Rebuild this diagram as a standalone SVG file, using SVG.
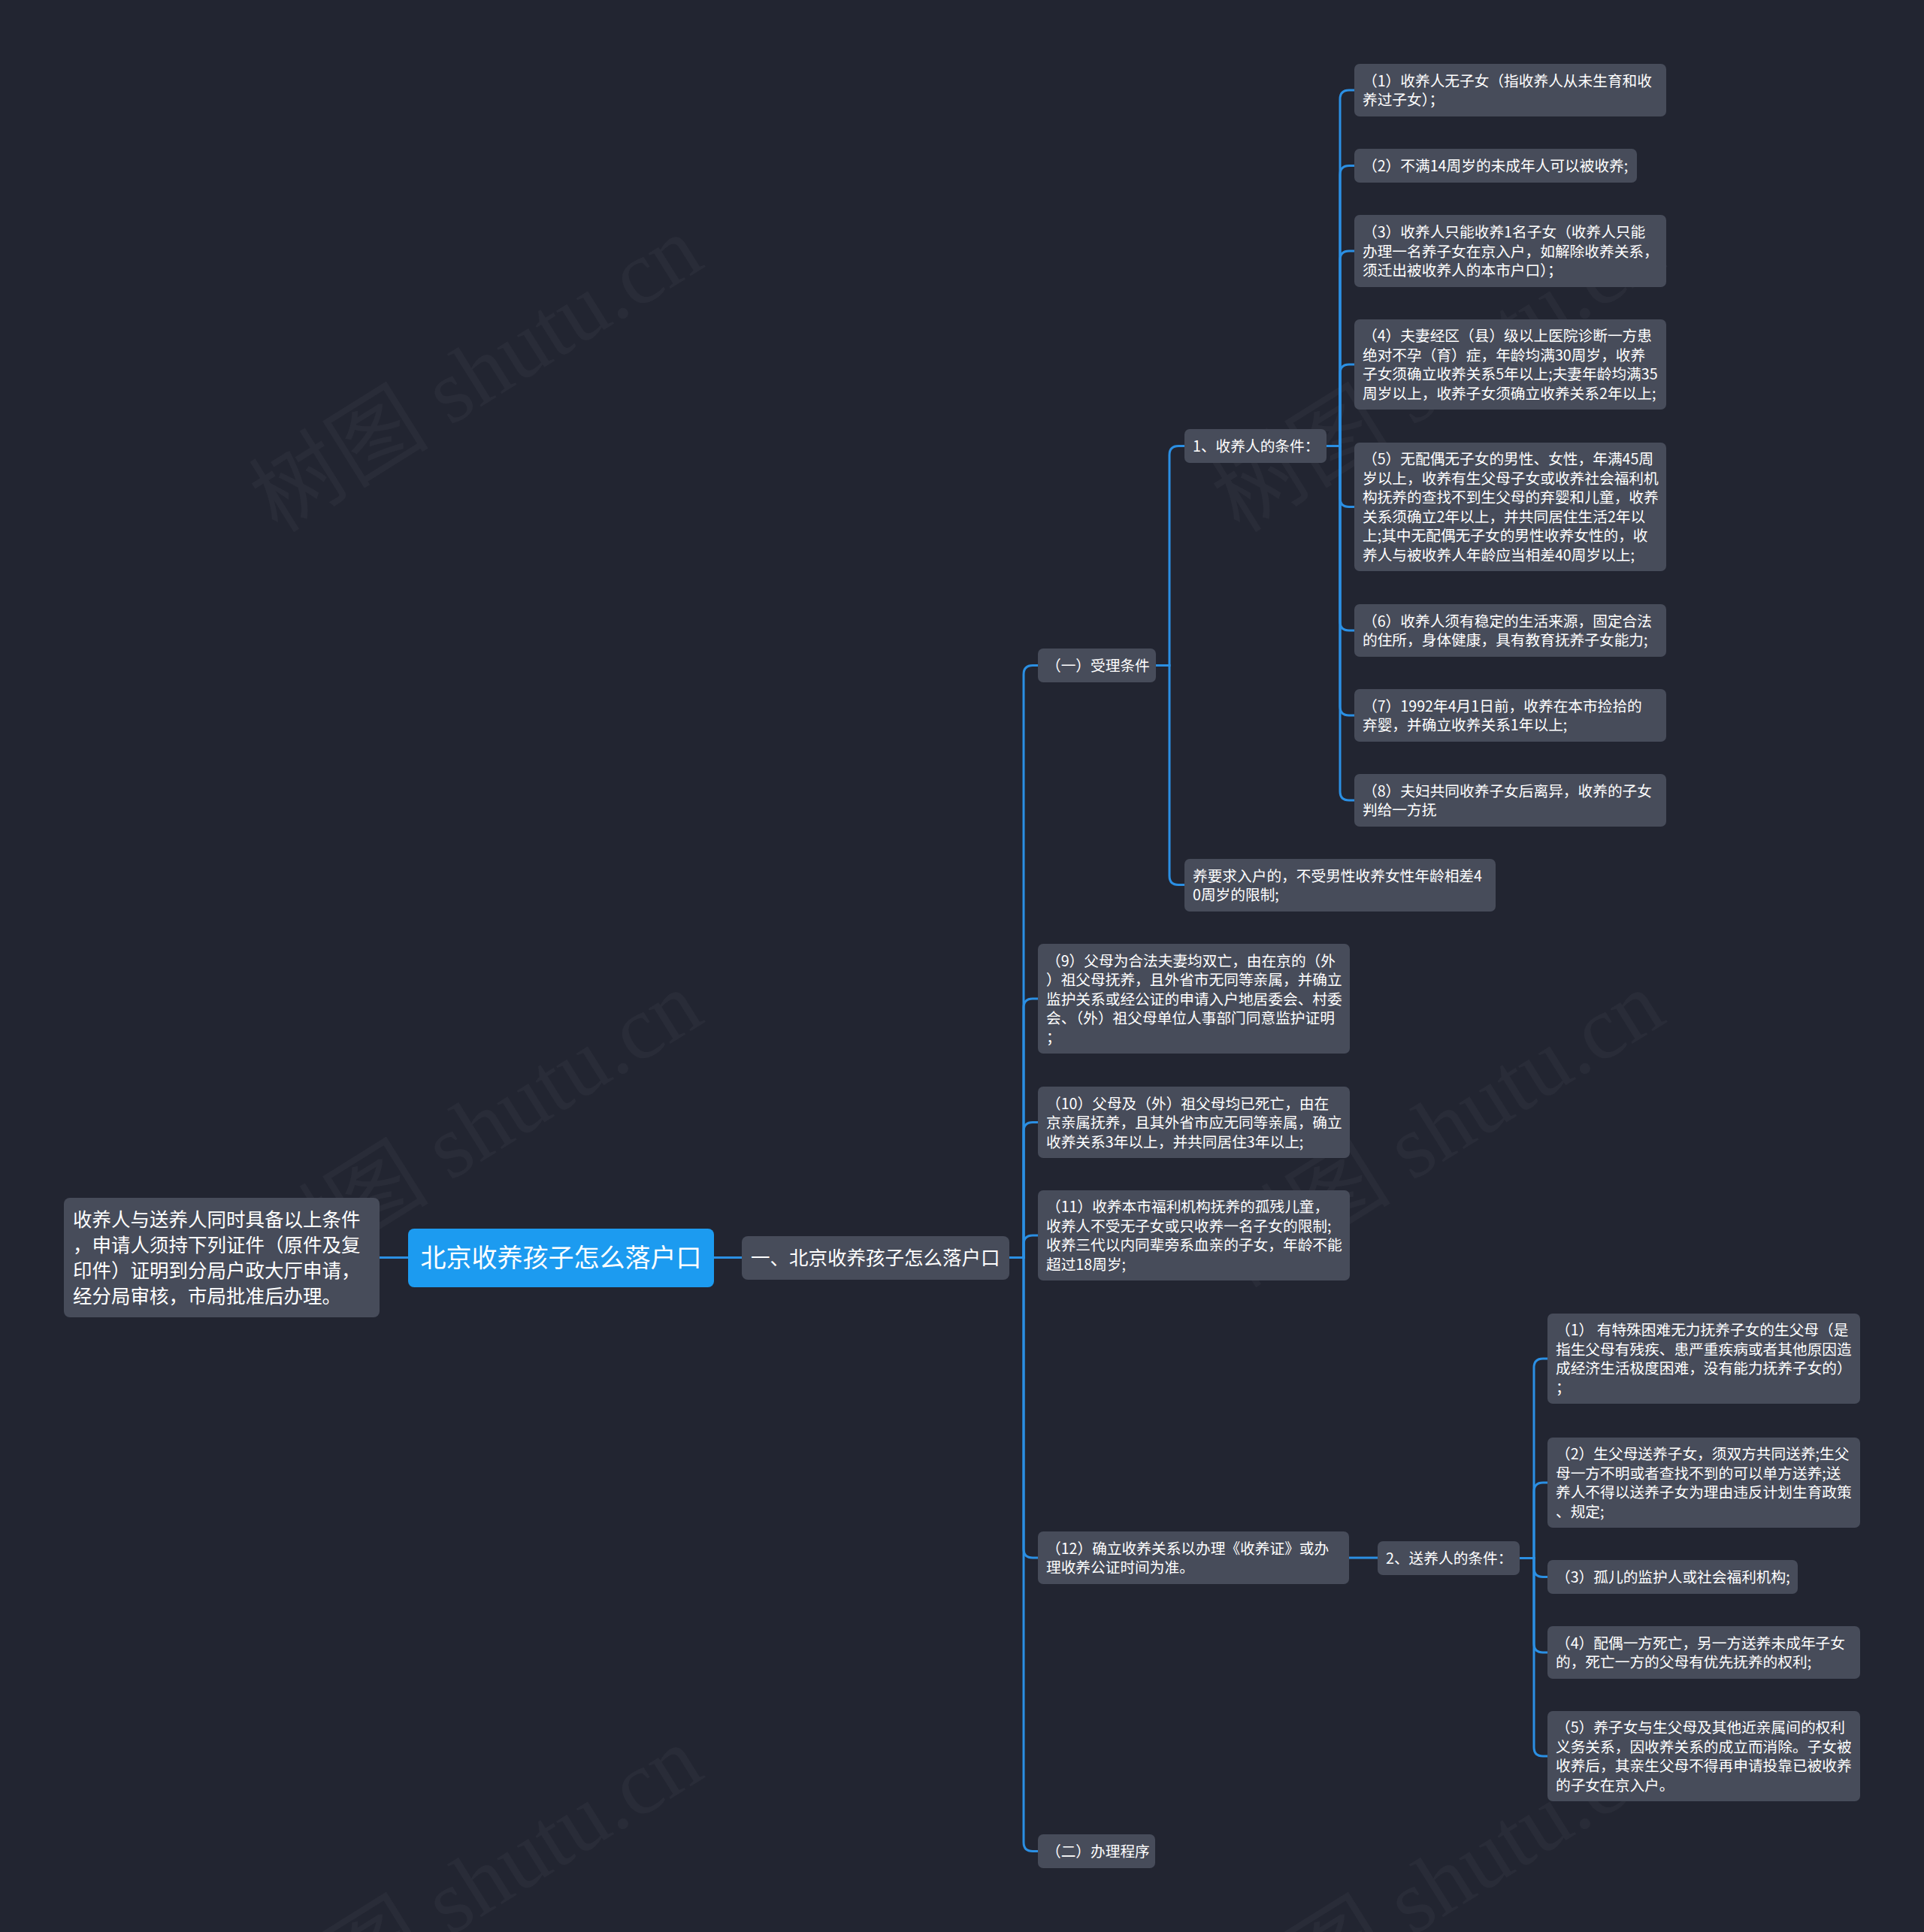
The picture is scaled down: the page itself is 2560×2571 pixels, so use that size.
<svg xmlns="http://www.w3.org/2000/svg" width="2560" height="2571" viewBox="0 0 2560 2571">
<style>
.wm{font-family:"Liberation Serif","Noto Sans CJK SC",serif;font-size:120px;fill:#ffffff;fill-opacity:0.035;}
.c{fill:none;stroke:#2b8fe3;stroke-width:3;}
.n{fill:#474c5a;}
.t{font-family:"Noto Sans CJK SC","Noto Sans",sans-serif;font-size:19.7px;fill:#ffffff;}
.tl{font-family:"Noto Sans CJK SC","Noto Sans",sans-serif;font-size:25.5px;fill:#ffffff;}
.tr{font-family:"Noto Sans CJK SC","Noto Sans",sans-serif;font-size:34px;fill:#ffffff;}
</style>
<rect width="2560" height="2571" fill="#222531"/>
<g id="watermarks">
<text class="wm" transform="translate(655,532) rotate(-32)" text-anchor="middle">树图 shutu.cn</text>
<text class="wm" transform="translate(1935,532) rotate(-32)" text-anchor="middle">树图 shutu.cn</text>
<text class="wm" transform="translate(655,1537) rotate(-32)" text-anchor="middle">树图 shutu.cn</text>
<text class="wm" transform="translate(1935,1537) rotate(-32)" text-anchor="middle">树图 shutu.cn</text>
<text class="wm" transform="translate(655,2542) rotate(-32)" text-anchor="middle">树图 shutu.cn</text>
<text class="wm" transform="translate(1935,2542) rotate(-32)" text-anchor="middle">树图 shutu.cn</text>
</g>
<g id="connectors">
<path class="c" d="M505,1673.5 H543"/>
<path class="c" d="M950,1673.5 H987"/>
<path class="c" d="M1343,1673.5 H1362 V897.5 Q1362,885.5 1374,885.5 H1381"/>
<path class="c" d="M1343,1673.5 H1362 V1341 Q1362,1329 1374,1329 H1381"/>
<path class="c" d="M1343,1673.5 H1362 V1505.5 Q1362,1493.5 1374,1493.5 H1381"/>
<path class="c" d="M1343,1673.5 H1362 V1656 Q1362,1644 1374,1644 H1381"/>
<path class="c" d="M1343,1673.5 H1362 V2061 Q1362,2073 1374,2073 H1381"/>
<path class="c" d="M1343,1673.5 H1362 V2451.5 Q1362,2463.5 1374,2463.5 H1381"/>
<path class="c" d="M1538,885.5 H1556 V605.5 Q1556,593.5 1568,593.5 H1576"/>
<path class="c" d="M1538,885.5 H1556 V1165.5 Q1556,1177.5 1568,1177.5 H1576"/>
<path class="c" d="M1765,593.5 H1783 V132 Q1783,120 1795,120 H1802"/>
<path class="c" d="M1765,593.5 H1783 V232.5 Q1783,220.5 1795,220.5 H1802"/>
<path class="c" d="M1765,593.5 H1783 V346 Q1783,334 1795,334 H1802"/>
<path class="c" d="M1765,593.5 H1783 V497 Q1783,485 1795,485 H1802"/>
<path class="c" d="M1765,593.5 H1783 V662.5 Q1783,674.5 1795,674.5 H1802"/>
<path class="c" d="M1765,593.5 H1783 V827 Q1783,839 1795,839 H1802"/>
<path class="c" d="M1765,593.5 H1783 V940 Q1783,952 1795,952 H1802"/>
<path class="c" d="M1765,593.5 H1783 V1053 Q1783,1065 1795,1065 H1802"/>
<path class="c" d="M1795,2073 H1833"/>
<path class="c" d="M2022,2073.5 H2041 V1820 Q2041,1808 2053,1808 H2059"/>
<path class="c" d="M2022,2073.5 H2041 V1985 Q2041,1973 2053,1973 H2059"/>
<path class="c" d="M2022,2073.5 H2041 V2086.5 Q2041,2098.5 2053,2098.5 H2059"/>
<path class="c" d="M2022,2073.5 H2041 V2187 Q2041,2199 2053,2199 H2059"/>
<path class="c" d="M2022,2073.5 H2041 V2325 Q2041,2337 2053,2337 H2059"/>
</g>
<g id="note">
<rect class="n" x="85" y="1594" width="420" height="159" rx="8"/>
<text class="tl" x="97" y="1632.2">收养人与送养人同时具备以上条件</text>
<text class="tl" x="97" y="1666.2">，申请人须持下列证件（原件及复</text>
<text class="tl" x="97" y="1700.2">印件）证明到分局户政大厅申请，</text>
<text class="tl" x="97" y="1734.2">经分局审核，市局批准后办理。</text>
</g>
<g id="root">
<rect x="543" y="1635" width="407" height="78" rx="8" fill="#1c9bf0"/>
<text class="tr" x="746.5" y="1686.4" text-anchor="middle">北京收养孩子怎么落户口</text>
</g>
<g id="level1">
<rect class="n" x="987" y="1645" width="356" height="58" rx="8"/>
<text class="tl" x="999" y="1683.2">一、北京收养孩子怎么落户口</text>
</g>
<g id="accept">
<rect class="n" x="1381" y="863" width="157" height="45" rx="7"/>
<text class="t" x="1392" y="893">（一）受理条件</text>
</g>
<g id="adopter">
<rect class="n" x="1576" y="571" width="189" height="45" rx="7"/>
<text class="t" x="1587" y="601">1、收养人的条件：</text>
</g>
<g id="a1">
<rect class="n" x="1802" y="85" width="415" height="70" rx="7"/>
<text class="t" x="1813" y="114.75">（1）收养人无子女（指收养人从未生育和收</text>
<text class="t" x="1813" y="140.25">养过子女）；</text>
</g>
<g id="a2">
<rect class="n" x="1802" y="198" width="376" height="45" rx="7"/>
<text class="t" x="1813" y="228">（2）不满14周岁的未成年人可以被收养;</text>
</g>
<g id="a3">
<rect class="n" x="1802" y="286" width="415" height="96" rx="7"/>
<text class="t" x="1813" y="316">（3）收养人只能收养1名子女（收养人只能</text>
<text class="t" x="1813" y="341.5">办理一名养子女在京入户，如解除收养关系，</text>
<text class="t" x="1813" y="367">须迁出被收养人的本市户口）；</text>
</g>
<g id="a4">
<rect class="n" x="1802" y="425" width="415" height="120" rx="7"/>
<text class="t" x="1813" y="454.25">（4）夫妻经区（县）级以上医院诊断一方患</text>
<text class="t" x="1813" y="479.75">绝对不孕（育）症，年龄均满30周岁，收养</text>
<text class="t" x="1813" y="505.25">子女须确立收养关系5年以上;夫妻年龄均满35</text>
<text class="t" x="1813" y="530.75">周岁以上，收养子女须确立收养关系2年以上;</text>
</g>
<g id="a5">
<rect class="n" x="1802" y="589" width="415" height="171" rx="7"/>
<text class="t" x="1813" y="618.25">（5）无配偶无子女的男性、女性，年满45周</text>
<text class="t" x="1813" y="643.75">岁以上，收养有生父母子女或收养社会福利机</text>
<text class="t" x="1813" y="669.25">构抚养的查找不到生父母的弃婴和儿童，收养</text>
<text class="t" x="1813" y="694.75">关系须确立2年以上，并共同居住生活2年以</text>
<text class="t" x="1813" y="720.25">上;其中无配偶无子女的男性收养女性的，收</text>
<text class="t" x="1813" y="745.75">养人与被收养人年龄应当相差40周岁以上;</text>
</g>
<g id="a6">
<rect class="n" x="1802" y="804" width="415" height="70" rx="7"/>
<text class="t" x="1813" y="833.75">（6）收养人须有稳定的生活来源，固定合法</text>
<text class="t" x="1813" y="859.25">的住所，身体健康，具有教育抚养子女能力;</text>
</g>
<g id="a7">
<rect class="n" x="1802" y="917" width="415" height="70" rx="7"/>
<text class="t" x="1813" y="946.75">（7）1992年4月1日前，收养在本市捡拾的</text>
<text class="t" x="1813" y="972.25">弃婴，并确立收养关系1年以上;</text>
</g>
<g id="a8">
<rect class="n" x="1802" y="1030" width="415" height="70" rx="7"/>
<text class="t" x="1813" y="1059.75">（8）夫妇共同收养子女后离异，收养的子女</text>
<text class="t" x="1813" y="1085.25">判给一方抚</text>
</g>
<g id="a9extra">
<rect class="n" x="1576" y="1143" width="414" height="70" rx="7"/>
<text class="t" x="1587" y="1172.75">养要求入户的，不受男性收养女性年龄相差4</text>
<text class="t" x="1587" y="1198.25">0周岁的限制;</text>
</g>
<g id="b9">
<rect class="n" x="1381" y="1256" width="415" height="146" rx="7"/>
<text class="t" x="1392" y="1285.5">（9）父母为合法夫妻均双亡，由在京的（外</text>
<text class="t" x="1392" y="1311">）祖父母抚养，且外省市无同等亲属，并确立</text>
<text class="t" x="1392" y="1336.5">监护关系或经公证的申请入户地居委会、村委</text>
<text class="t" x="1392" y="1362">会、（外）祖父母单位人事部门同意监护证明</text>
<text class="t" x="1392" y="1387.5">；</text>
</g>
<g id="b10">
<rect class="n" x="1381" y="1446" width="415" height="95" rx="7"/>
<text class="t" x="1392" y="1475.5">（10）父母及（外）祖父母均已死亡，由在</text>
<text class="t" x="1392" y="1501">京亲属抚养，且其外省市应无同等亲属，确立</text>
<text class="t" x="1392" y="1526.5">收养关系3年以上，并共同居住3年以上;</text>
</g>
<g id="b11">
<rect class="n" x="1381" y="1584" width="415" height="120" rx="7"/>
<text class="t" x="1392" y="1613.25">（11）收养本市福利机构抚养的孤残儿童，</text>
<text class="t" x="1392" y="1638.75">收养人不受无子女或只收养一名子女的限制;</text>
<text class="t" x="1392" y="1664.25">收养三代以内同辈旁系血亲的子女，年龄不能</text>
<text class="t" x="1392" y="1689.75">超过18周岁;</text>
</g>
<g id="b12">
<rect class="n" x="1381" y="2038" width="414" height="70" rx="7"/>
<text class="t" x="1392" y="2067.75">（12）确立收养关系以办理《收养证》或办</text>
<text class="t" x="1392" y="2093.25">理收养公证时间为准。</text>
</g>
<g id="sender">
<rect class="n" x="1833" y="2051" width="189" height="45" rx="7"/>
<text class="t" x="1844" y="2081">2、送养人的条件：</text>
</g>
<g id="s1">
<rect class="n" x="2059" y="1748" width="416" height="120" rx="7"/>
<text class="t" x="2070" y="1777.25">（1） 有特殊困难无力抚养子女的生父母（是</text>
<text class="t" x="2070" y="1802.75">指生父母有残疾、患严重疾病或者其他原因造</text>
<text class="t" x="2070" y="1828.25">成经济生活极度困难，没有能力抚养子女的）</text>
<text class="t" x="2070" y="1853.75">；</text>
</g>
<g id="s2">
<rect class="n" x="2059" y="1913" width="416" height="120" rx="7"/>
<text class="t" x="2070" y="1942.25">（2）生父母送养子女，须双方共同送养;生父</text>
<text class="t" x="2070" y="1967.75">母一方不明或者查找不到的可以单方送养;送</text>
<text class="t" x="2070" y="1993.25">养人不得以送养子女为理由违反计划生育政策</text>
<text class="t" x="2070" y="2018.75">、规定;</text>
</g>
<g id="s3">
<rect class="n" x="2059" y="2076" width="333" height="45" rx="7"/>
<text class="t" x="2070" y="2106">（3）孤儿的监护人或社会福利机构;</text>
</g>
<g id="s4">
<rect class="n" x="2059" y="2164" width="416" height="70" rx="7"/>
<text class="t" x="2070" y="2193.75">（4）配偶一方死亡，另一方送养未成年子女</text>
<text class="t" x="2070" y="2219.25">的，死亡一方的父母有优先抚养的权利;</text>
</g>
<g id="s5">
<rect class="n" x="2059" y="2277" width="416" height="120" rx="7"/>
<text class="t" x="2070" y="2306.25">（5）养子女与生父母及其他近亲属间的权利</text>
<text class="t" x="2070" y="2331.75">义务关系，因收养关系的成立而消除。子女被</text>
<text class="t" x="2070" y="2357.25">收养后，其亲生父母不得再申请投靠已被收养</text>
<text class="t" x="2070" y="2382.75">的子女在京入户。</text>
</g>
<g id="procedure">
<rect class="n" x="1381" y="2441" width="156" height="45" rx="7"/>
<text class="t" x="1392" y="2471">（二）办理程序</text>
</g>
</svg>
